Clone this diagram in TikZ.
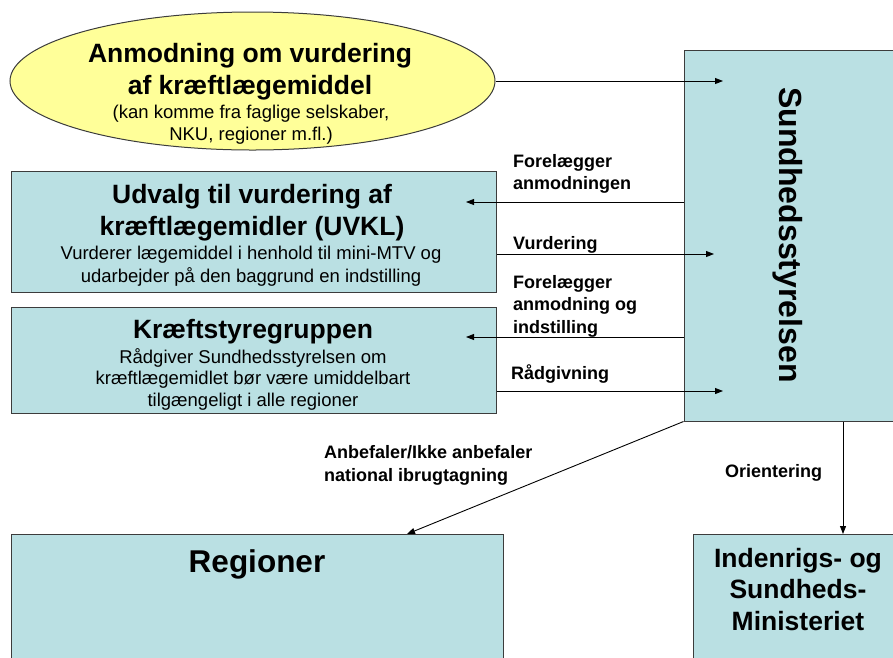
\documentclass[tikz,border=0pt]{standalone}
\usepackage{fontspec}
\setmainfont{Liberation Sans}
\usetikzlibrary{shapes.geometric,arrows.meta}
\definecolor{boxfill}{RGB}{186,224,227}
\definecolor{ellfill}{RGB}{255,255,153}
\definecolor{edge}{RGB}{60,60,60}
\begin{document}
\begin{tikzpicture}[x=1pt,y=-1pt,
  box/.style={draw=edge,line width=1pt,fill=boxfill,inner sep=0pt},
  arr/.style={line width=0.9pt,-{Triangle[length=8pt,width=6pt]}},
  ttl/.style={font=\fontsize{26.5pt}{31.5pt}\selectfont\bfseries,align=center,anchor=base,inner sep=0pt},
  sub/.style={font=\fontsize{18.5pt}{22pt}\selectfont,align=center,anchor=base,inner sep=0pt},
  lbl/.style={font=\fontsize{18pt}{22pt}\selectfont\bfseries,align=left,anchor=base west,inner sep=0pt}]
\useasboundingbox (0,0) rectangle (893,657);
% ellipse
\node[ellipse,draw=edge,line width=1pt,fill=ellfill,minimum width=485pt,minimum height=138pt,inner sep=0pt] (req) at (252.5,81) {};
\node[ttl] (reqT) at (250,94) {Anmodning om vurdering\\af kræftlægemiddel};
\node[sub] (reqS) at (251,140) {(kan komme fra faglige selskaber,\\NKU, regioner m.fl.)};
% Sundhedsstyrelsen
\node[box,minimum width=246pt,minimum height=371pt] (sst) at (807,235.5) {};
\node[font=\fontsize{32pt}{36pt}\selectfont\bfseries,rotate=-90,anchor=base,inner sep=0pt] (sstT) at (779,235) {Sundhedsstyrelsen};
% UVKL
\node[box,minimum width=485pt,minimum height=121pt] (uvkl) at (253.5,231.5) {};
\node[ttl] (uvklT) at (252,235) {Udvalg til vurdering af\\kræftlægemidler (UVKL)};
\node[font=\fontsize{18.5pt}{23pt}\selectfont,align=center,anchor=base,inner sep=0pt] (uvklS) at (251,282) {Vurderer lægemiddel i henhold til mini-MTV og\\udarbejder på den baggrund en indstilling};
% Kraeftstyregruppen
\node[box,minimum width=485pt,minimum height=106pt] (kst) at (253.5,360) {};
\node[ttl] (kstT) at (253,338) {Kræftstyregruppen};
\node[font=\fontsize{18.5pt}{21.5pt}\selectfont,align=center,anchor=base,inner sep=0pt] (kstS) at (253,406) {Rådgiver Sundhedsstyrelsen om\\kræftlægemidlet bør være umiddelbart\\tilgængeligt i alle regioner};
% Regioner
\node[box,minimum width=492pt,minimum height=170pt] (reg) at (257,619) {};
\node[font=\fontsize{31.5pt}{36pt}\selectfont\bfseries,anchor=base,inner sep=0pt] (regT) at (257,572) {Regioner};
% Ministeriet
\node[box,minimum width=240pt,minimum height=170pt] (min) at (813,619) {};
\node[ttl] (minT) at (798,630) {Indenrigs- og\\Sundheds-\\Ministeriet};
% connectors
\coordinate (a1) at (723,81);
\coordinate (a2) at (466,202);
\coordinate (a3) at (714,254);
\coordinate (a4) at (466,337);
\coordinate (a5) at (723,391);
\coordinate (a6) at (407,534);
\coordinate (a7) at (843,534);
\draw[arr] (req.east) -- (a1);
\draw[arr] (sst.west |- a2) -- (a2);
\draw[arr] (uvkl.east |- a3) -- (a3);
\draw[arr] (sst.west |- a4) -- (a4);
\draw[arr] (kst.east |- a5) -- (a5);
\draw[arr] (sst.south west) -- (a6);
\draw[arr] (a7 |- sst.south) -- (a7);
% labels
\node[lbl] (l1) at (513,189) {Forelægger\\anmodningen};
\node[lbl] (l2) at (513,249) {Vurdering};
\node[lbl,font=\fontsize{18pt}{22.5pt}\selectfont\bfseries] (l3) at (513,333) {Forelægger\\anmodning og\\indstilling};
\node[lbl] (l4) at (511,379) {Rådgivning};
\node[lbl,font=\fontsize{18pt}{23.5pt}\selectfont\bfseries] (l5) at (324,481.5) {Anbefaler/Ikke anbefaler\\national ibrugtagning};
\node[lbl] (l6) at (725,477) {Orientering};
\end{tikzpicture}
\end{document}
